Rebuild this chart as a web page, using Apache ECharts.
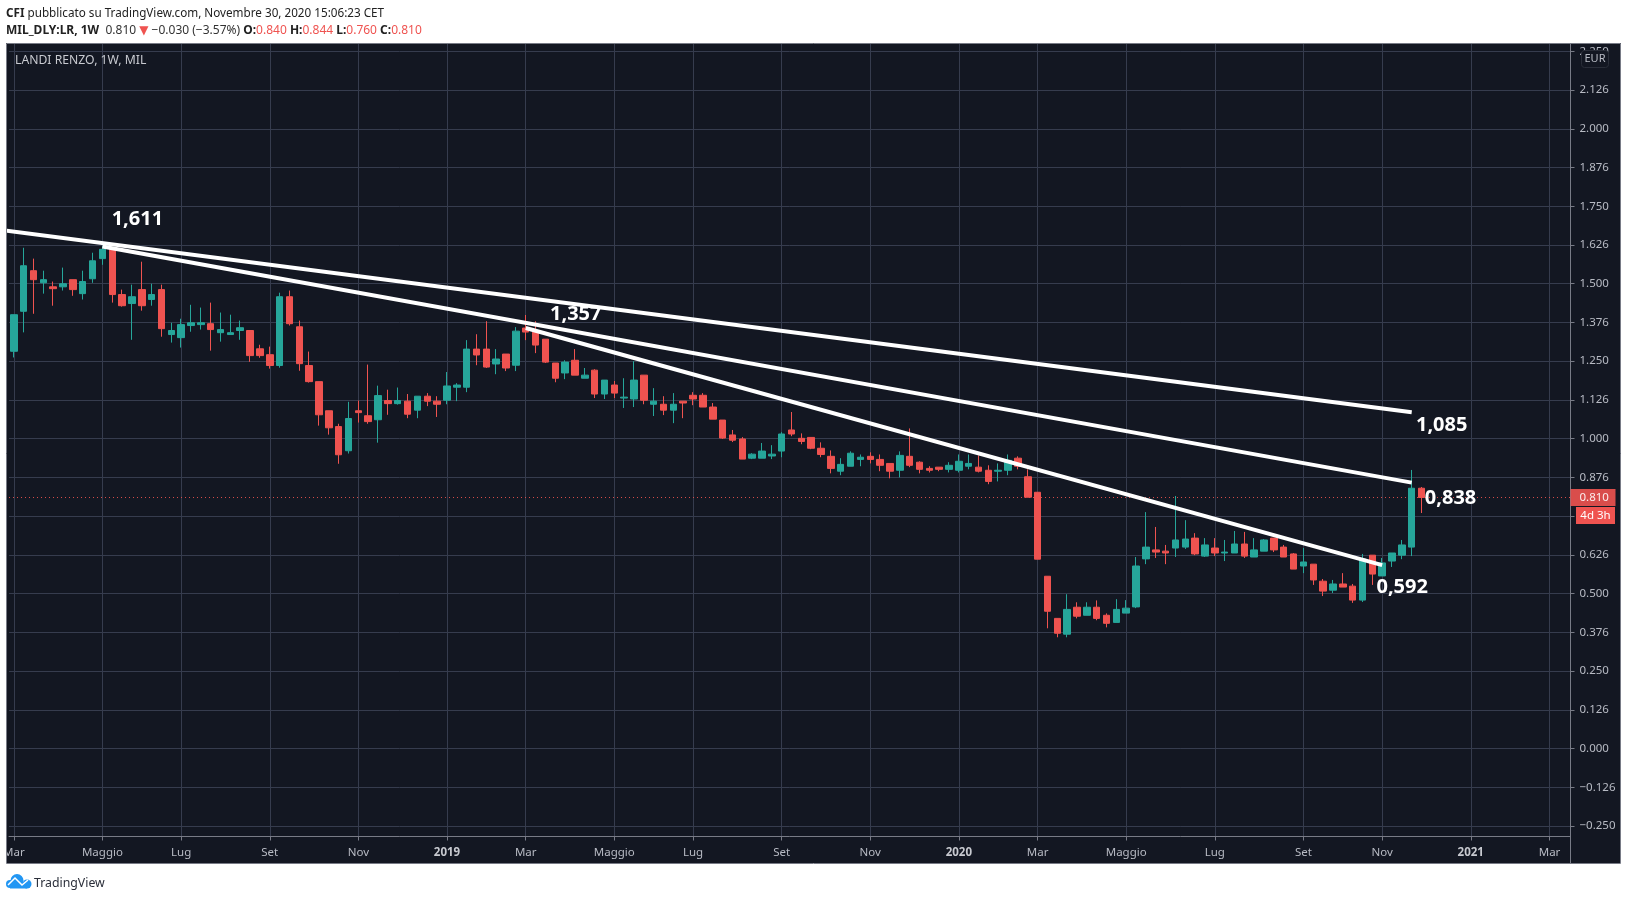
<!DOCTYPE html>
<html>
<head>
<meta charset="utf-8">
<title>Landi Renzo weekly</title>
<style>
  html, body { margin: 0; padding: 0; background: #ffffff; }
  #chart { width: 1627px; height: 900px; }
</style>
<script src="https://cdn.jsdelivr.net/npm/echarts@6/dist/echarts.min.js"></script>
</head>
<body>
<div id="chart"></div>
<script>
// Weekly OHLC of Landi Renzo (MIL:LR), one entry per week from 5 March 2018.
const firstWeek = '2018-03-05';
const opens = [
  1.282,1.411,1.542,1.503,1.490,1.490,1.513,1.468,1.516,1.581,
  1.611,1.465,1.436,1.481,1.449,1.481,1.336,1.326,1.365,1.368,
  1.371,1.342,1.336,1.349,1.349,1.290,1.271,1.236,1.458,1.361,
  1.236,1.184,1.090,1.039,0.961,1.090,1.074,1.061,1.123,1.113,
  1.121,1.092,1.137,1.121,1.124,1.166,1.166,1.289,1.289,1.241,
  1.273,1.237,1.357,1.344,1.321,1.244,1.212,1.253,1.195,1.221,
  1.144,1.173,1.131,1.128,1.205,1.111,1.111,1.092,1.121,1.140,
  1.140,1.102,1.060,1.012,0.999,0.937,0.937,0.944,0.960,1.028,
  1.001,1.004,0.969,0.943,0.895,0.911,0.933,0.943,0.933,0.920,
  0.898,0.943,0.924,0.904,0.908,0.901,0.898,0.911,0.908,0.898,
  0.895,0.898,0.937,0.877,0.827,0.556,0.420,0.369,0.456,0.430,
  0.456,0.430,0.407,0.437,0.457,0.612,0.641,0.637,0.647,0.650,
  0.679,0.621,0.647,0.631,0.631,0.660,0.618,0.637,0.679,0.650,
  0.628,0.589,0.595,0.540,0.511,0.531,0.524,0.479,0.624,0.557,
  0.605,0.624,0.650,0.840
];
const closes = [
  1.400,1.558,1.513,1.513,1.484,1.500,1.481,1.507,1.574,1.611,
  1.465,1.429,1.458,1.429,1.465,1.355,1.349,1.368,1.374,1.374,
  1.352,1.352,1.342,1.358,1.268,1.268,1.236,1.458,1.371,1.242,
  1.184,1.077,1.035,0.948,1.065,1.084,1.055,1.139,1.113,1.123,
  1.079,1.137,1.121,1.111,1.170,1.173,1.289,1.270,1.231,1.257,
  1.228,1.347,1.344,1.302,1.247,1.195,1.247,1.205,1.205,1.144,
  1.189,1.147,1.134,1.189,1.124,1.121,1.092,1.111,1.115,1.128,
  1.102,1.063,1.002,0.995,0.934,0.950,0.960,0.950,1.015,1.015,
  0.991,0.969,0.949,0.904,0.917,0.953,0.940,0.933,0.914,0.895,
  0.946,0.914,0.901,0.898,0.901,0.914,0.927,0.920,0.895,0.862,
  0.898,0.930,0.911,0.811,0.611,0.443,0.372,0.449,0.427,0.456,
  0.420,0.404,0.449,0.453,0.589,0.650,0.634,0.631,0.673,0.676,
  0.628,0.657,0.631,0.634,0.660,0.621,0.641,0.673,0.641,0.618,
  0.579,0.602,0.544,0.508,0.531,0.521,0.479,0.612,0.563,0.599,
  0.631,0.657,0.840,0.810
];
const lows = [
  1.262,1.343,1.403,1.468,1.429,1.478,1.461,1.449,1.503,1.561,
  1.439,1.426,1.319,1.413,1.429,1.329,1.310,1.294,1.345,1.352,
  1.284,1.313,1.336,1.319,1.248,1.261,1.226,1.229,1.365,1.219,
  1.181,1.042,1.013,0.919,0.952,1.052,1.048,0.987,1.077,1.110,
  1.066,1.066,1.105,1.070,1.111,1.121,1.150,1.237,1.228,1.208,
  1.218,1.218,1.318,1.276,1.244,1.182,1.192,1.205,1.195,1.131,
  1.128,1.131,1.099,1.102,1.111,1.073,1.076,1.050,1.066,1.108,
  1.102,1.063,0.999,0.989,0.934,0.934,0.937,0.934,0.940,1.008,
  0.982,0.966,0.940,0.888,0.882,0.911,0.911,0.920,0.895,0.872,
  0.875,0.908,0.888,0.891,0.895,0.891,0.891,0.901,0.891,0.853,
  0.862,0.882,0.901,0.811,0.611,0.388,0.359,0.359,0.420,0.430,
  0.414,0.391,0.407,0.437,0.453,0.595,0.615,0.595,0.618,0.644,
  0.624,0.618,0.621,0.605,0.631,0.615,0.618,0.637,0.634,0.618,
  0.579,0.566,0.528,0.492,0.502,0.521,0.470,0.473,0.528,0.557,
  0.586,0.611,0.621,0.760
];
const highs = [
  1.400,1.616,1.581,1.542,1.507,1.552,1.513,1.542,1.600,1.622,
  1.618,1.481,1.497,1.571,1.500,1.497,1.374,1.387,1.432,1.423,
  1.439,1.407,1.400,1.381,1.349,1.303,1.297,1.471,1.478,1.381,
  1.281,1.184,1.090,1.048,1.119,1.123,1.239,1.171,1.158,1.165,
  1.144,1.137,1.147,1.137,1.215,1.179,1.318,1.337,1.379,1.289,
  1.273,1.360,1.399,1.379,1.321,1.244,1.253,1.289,1.228,1.224,
  1.189,1.186,1.195,1.250,1.205,1.163,1.137,1.147,1.121,1.150,
  1.147,1.115,1.060,1.028,1.005,0.953,0.986,0.979,1.021,1.086,
  1.017,1.004,0.988,0.962,0.937,0.959,0.949,0.956,0.949,0.920,
  0.959,1.033,0.927,0.911,0.908,0.924,0.949,0.949,0.946,0.914,
  0.920,0.949,0.943,0.901,0.827,0.556,0.420,0.498,0.472,0.472,
  0.478,0.436,0.482,0.479,0.618,0.763,0.715,0.657,0.815,0.737,
  0.695,0.679,0.679,0.673,0.702,0.699,0.679,0.676,0.679,0.657,
  0.631,0.647,0.595,0.547,0.544,0.566,0.531,0.628,0.624,0.615,
  0.631,0.673,0.899,0.844
];

// Axis ticks: prices every 0.125, rounded to the symbol's tick size on the labels.
const priceTicks = [2.25,2.125,2,1.875,1.75,1.625,1.5,1.375,1.25,1.125,1,0.875,0.75,0.625,0.5,0.375,0.25,0.125,0,-0.125,-0.25];
const priceLabels = ['2.250','2.126','2.000','1.876','1.750','1.626','1.500','1.376','1.250','1.126','1.000','0.876','','0.626','0.500','0.376','0.250','0.126','0.000','\u22120.126','\u22120.250'];
const monthTicks = ['2018-03-05','2018-05-07','2018-07-02','2018-09-03','2018-11-05','2019-01-07','2019-03-04','2019-05-06','2019-07-01','2019-09-02','2019-11-04','2020-01-06','2020-03-02','2020-05-04','2020-07-06','2020-09-07','2020-11-02','2021-01-04','2021-03-01'];
const monthLabels = ['Mar','Maggio','Lug','Set','Nov','2019','Mar','Maggio','Lug','Set','Nov','2020','Mar','Maggio','Lug','Set','Nov','2021','Mar'];

// Hand-drawn trend lines, as [date, price] end points.
const viewStart = '2018-03-01T14:12:00Z';
const viewEnd = '2021-03-15T22:00:00Z';
const trendUpper = [['2018-02-26', 1.672], ['2020-11-23', 1.085]];
const trendMiddle = [['2018-05-07', 1.620], ['2020-11-23', 0.858]];
const trendLower = [['2019-03-04', 1.357], ['2020-11-02', 0.592]];

// Price notes written on the chart, with where each one sits next to its point.
const noteDates = ['2018-05-07','2019-03-04','2020-11-23','2020-11-30','2020-11-02'];
const notePrices = [1.611, 1.357, 1.085, 0.838, 0.592];
const noteOffsets = [[35,-30],[50,-14],[30,13],[29,9],[20,22]];

const lastClose = 0.810;

const toTime = (d) => new Date(d.length === 10 ? d + 'T00:00:00Z' : d).getTime();
const WEEK = 7 * 24 * 3600 * 1000;
const startTime = toTime(firstWeek);
const candles = opens.map((o, i) => [startTime + i * WEEK, o, closes[i], lows[i], highs[i]]);
const asPoints = (line) => line.map(([d, p]) => [toTime(d), p]);
const monthTimes = monthTicks.map(toTime);

const UP = '#26a69a', DOWN = '#ef5350', PANE = '#131722', GRID = '#363c4e', EDGE = '#787b86', TEXT = '#b8bbc4';
const FONT = '"Noto Sans", "Open Sans", sans-serif';
const BLUE = '#2196f3';

const chart = echarts.init(document.getElementById('chart'), null, { renderer: 'canvas' });

const trendSeries = (name, line) => ({
  name, type: 'line', data: asPoints(line), symbol: 'none', z: 5, silent: true,
  lineStyle: { color: '#ffffff', width: 4, cap: 'butt' }
});

chart.setOption({
  animation: false,
  backgroundColor: '#ffffff',
  textStyle: { fontFamily: FONT },
  title: [
    {
      left: 6, top: 8, padding: 0,
      text: '{b|CFI} pubblicato su TradingView.com, Novembre 30, 2020 15:06:23 CET',
      textStyle: { fontFamily: FONT, fontSize: 11.7, fontWeight: 'normal', color: '#222222', rich: { b: { fontFamily: FONT, fontSize: 11.7, fontWeight: 'bold', color: '#222222' } } }
    },
    {
      left: 6, top: 25, padding: 0,
      text: '{b|MIL_DLY:LR, 1W}  0.810 {t|\u25BC} \u22120.030 (\u22123.57%) {b|O:}{r|0.840} {b|H:}{r|0.844} {b|L:}{r|0.760} {b|C:}{r|0.810}',
      textStyle: {
        fontFamily: FONT, fontSize: 12, fontWeight: 'normal', color: '#333333',
        rich: {
          b: { fontFamily: FONT, fontSize: 12, fontWeight: 'bold', color: '#222222' },
          r: { fontFamily: FONT, fontSize: 12, color: DOWN },
          t: { fontFamily: 'DejaVu Sans', fontSize: 12, color: DOWN }
        }
      }
    },
    {
      left: 15, top: 55, padding: 0, text: 'LANDI RENZO, 1W, MIL',
      textStyle: { fontFamily: FONT, fontSize: 12.2, fontWeight: 'normal', color: '#c8cad0' }
    },
    {
      left: 34, top: 877, padding: 0, text: 'TradingView',
      textStyle: { fontFamily: FONT, fontSize: 12.3, fontWeight: 'normal', color: '#2a2e39' }
    }
  ],
  // The plot starts a little left of the frame; the strip outside it is masked below.
  grid: { left: 4, top: 43.5, width: 1566.5, height: 793, containLabel: false },
  xAxis: {
    type: 'value',
    scale: true,
    containShape: false,
    min: toTime(viewStart),
    max: toTime(viewEnd),
    axisLine: { onZero: false, lineStyle: { color: EDGE, width: 1 } },
    axisTick: { show: true, length: 4, customValues: monthTimes, lineStyle: { color: EDGE } },
    axisLabel: {
      customValues: monthTimes,
      hideOverlap: false, showMinLabel: true, showMaxLabel: true,
      margin: 10, fontFamily: FONT, fontSize: 11.5, color: TEXT,
      formatter: (v) => {
        const s = monthLabels[monthTimes.indexOf(v)];
        return /^\d+$/.test(s) ? '{y|' + s + '}' : s;
      },
      rich: { y: { fontFamily: FONT, fontSize: 11.5, fontWeight: 'bold', color: '#c8cad0' } }
    },
    splitLine: { show: true, lineStyle: { color: GRID, width: 1 } }
  },
  yAxis: {
    type: 'value',
    position: 'right',
    min: -0.2839,
    max: 2.2752,
    axisLine: { show: true, onZero: false, lineStyle: { color: EDGE, width: 1 } },
    axisTick: { show: true, length: 4, customValues: priceTicks, lineStyle: { color: EDGE } },
    axisLabel: {
      customValues: priceTicks,
      showMinLabel: true, showMaxLabel: true,
      margin: 9, fontFamily: FONT, fontSize: 11.5, color: TEXT, align: 'left',
      formatter: (v) => priceLabels[priceTicks.indexOf(v)]
    },
    splitLine: { show: true, lineStyle: { color: GRID, width: 1 } }
  },
  series: [
    {
      name: 'LR', type: 'candlestick', data: candles, barWidth: 7, z: 3, silent: true,
      encode: { x: 0, y: [1, 2, 3, 4] },
      itemStyle: { color: UP, color0: DOWN, borderColor: UP, borderColor0: DOWN, borderWidth: 1 },
      markLine: {
        silent: true, symbol: 'none', z: 1, animation: false,
        lineStyle: { color: DOWN, type: [1, 3], width: 1, opacity: 0.9 },
        label: {
          show: true, position: 'end', distance: 0, formatter: () => lastClose.toFixed(3),
          backgroundColor: DOWN, color: '#ffffff', fontFamily: FONT, fontSize: 11.5,
          width: 36, height: 17, lineHeight: 17, align: 'left', padding: [0, 0, 0, 9]
        },
        emphasis: { disabled: true },
        data: [{ yAxis: lastClose }]
      }
    },
    trendSeries('Upper trend', trendUpper),
    trendSeries('Middle trend', trendMiddle),
    trendSeries('Lower trend', trendLower),
    {
      name: 'Notes', type: 'scatter', z: 6, silent: true, symbolSize: 1,
      itemStyle: { color: 'rgba(0,0,0,0)', opacity: 1 },
      data: noteDates.map((d, i) => ({
        value: [toTime(d), notePrices[i]],
        label: { offset: noteOffsets[i] }
      })),
      label: {
        show: true, position: 'inside', align: 'center', verticalAlign: 'middle',
        fontFamily: FONT, fontSize: 20, fontWeight: 'bold', color: '#ffffff',
        formatter: (p) => p.value[1].toFixed(3).replace('.', ',')
      }
    }
  ],
  graphic: [
    // pane behind the axes
    { type: 'rect', z: -1, silent: true, shape: { x: 6, y: 43, width: 1615, height: 820 }, style: { fill: PANE } },
    // white strip left of the frame, hiding what runs past it
    { type: 'rect', z: 50, silent: true, shape: { x: 0, y: 40, width: 6, height: 830 }, style: { fill: '#ffffff' } },
    // outer frame
    { type: 'rect', z: 51, silent: true, shape: { x: 6.5, y: 43.5, width: 1614, height: 820 }, style: { fill: 'none', stroke: EDGE, lineWidth: 1 } },
    { type: 'line', z: 51, silent: true, shape: { x1: 1570.5, y1: 836, x2: 1570.5, y2: 863 }, style: { stroke: EDGE, lineWidth: 1 } },
    // currency badge
    { type: 'rect', z: 52, silent: true, shape: { x: 1581.5, y: 50.5, width: 27, height: 17, r: 3 }, style: { fill: PANE, stroke: '#2a2e39', lineWidth: 1 } },
    { type: 'text', z: 53, silent: true, style: { x: 1595, y: 59, text: 'EUR', fill: TEXT, font: '11px "Noto Sans"', align: 'center', verticalAlign: 'middle' } },
    // time to bar close
    { type: 'rect', z: 52, silent: true, shape: { x: 1576, y: 507, width: 39, height: 17 }, style: { fill: DOWN } },
    { type: 'text', z: 53, silent: true, style: { x: 1595.5, y: 515.5, text: '4d 3h', fill: '#ffffff', font: '11.5px "Noto Sans"', align: 'center', verticalAlign: 'middle' } },
    // brand mark: a cloud with a white zigzag
    { type: 'circle', z: 52, silent: true, shape: { cx: 10, cy: 884, r: 4 }, style: { fill: BLUE } },
    { type: 'circle', z: 52, silent: true, shape: { cx: 17, cy: 880.5, r: 6.5 }, style: { fill: BLUE } },
    { type: 'circle', z: 52, silent: true, shape: { cx: 27, cy: 884, r: 4.5 }, style: { fill: BLUE } },
    { type: 'rect', z: 52, silent: true, shape: { x: 10, y: 882, width: 17, height: 6.5 }, style: { fill: BLUE } },
    { type: 'polyline', z: 53, silent: true, shape: { points: [[8, 885], [15, 878], [22, 885], [28, 880]] }, style: { fill: 'none', stroke: '#ffffff', lineWidth: 1.5 } }
  ]
});
</script>
</body>
</html>
